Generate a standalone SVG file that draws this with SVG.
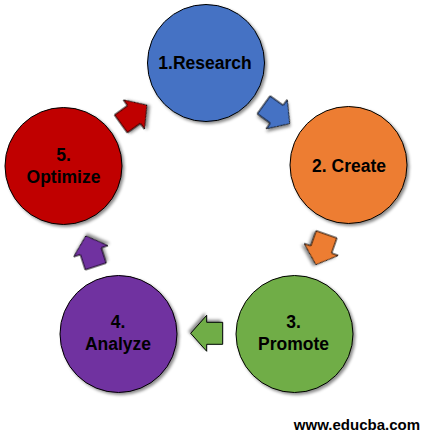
<svg xmlns="http://www.w3.org/2000/svg" width="425" height="438" viewBox="0 0 425 438">
  <defs>
    <filter id="sh" x="-30%" y="-30%" width="160%" height="160%">
      <feDropShadow dx="2" dy="2" stdDeviation="1.6" flood-color="#000" flood-opacity="0.45"/>
    </filter>
    <polygon id="arr" points="-16,-11 0,-11 0,-18 16,0 0,18 0,11 -16,11"/>
  </defs>
  <style>
    .c { stroke: #000; stroke-width: 1; filter: url(#sh); }
    .a { stroke: #000; stroke-width: 1; stroke-linejoin: miter; filter: url(#sh); }
    .t { font-family: "Liberation Sans", Arial, sans-serif; font-weight: bold; font-size: 17.5px; fill: #000; text-anchor: middle; }
    .w { font-family: "Liberation Sans", Arial, sans-serif; font-weight: bold; font-size: 15px; fill: #000; text-anchor: end; }
  </style>
  <rect width="425" height="438" fill="#fff"/>

  <g id="connectors">
    <use href="#arr" class="a" fill="#4472C4" transform="translate(276.7,114.2) rotate(35.8)"/>
    <use href="#arr" class="a" fill="#ED7D31" transform="translate(321.2,249.5) rotate(109.4)"/>
    <use href="#arr" class="a" fill="#70AD47" transform="translate(206.7,333.3) rotate(180)"/>
    <use href="#arr" class="a" fill="#7030A0" transform="translate(90.8,251.2) rotate(-108)"/>
    <use href="#arr" class="a" fill="#C00000" transform="translate(133.9,114.5) rotate(-35.8)"/>
  </g>

  <g id="research">
    <circle class="c" cx="206" cy="63" r="58.5" fill="#4472C4"/>
    <text class="t" x="205" y="68.5">1.Research</text>
  </g>
  <g id="create">
    <circle class="c" cx="348.5" cy="165" r="58.5" fill="#ED7D31"/>
    <text class="t" x="349" y="172">2. Create</text>
  </g>
  <g id="promote">
    <circle class="c" cx="294.5" cy="334" r="58.5" fill="#70AD47"/>
    <text class="t" x="293.5" y="328">3.</text>
    <text class="t" x="293.5" y="350">Promote</text>
  </g>
  <g id="analyze">
    <circle class="c" cx="118.5" cy="334" r="58.5" fill="#7030A0"/>
    <text class="t" x="118" y="328">4.</text>
    <text class="t" x="118" y="350">Analyze</text>
  </g>
  <g id="optimize">
    <circle class="c" cx="63.5" cy="166" r="58.5" fill="#C00000"/>
    <text class="t" x="63.5" y="161">5.</text>
    <text class="t" x="63.5" y="183">Optimize</text>
  </g>

  <text class="w" x="420" y="429.5">www.educba.com</text>
</svg>
